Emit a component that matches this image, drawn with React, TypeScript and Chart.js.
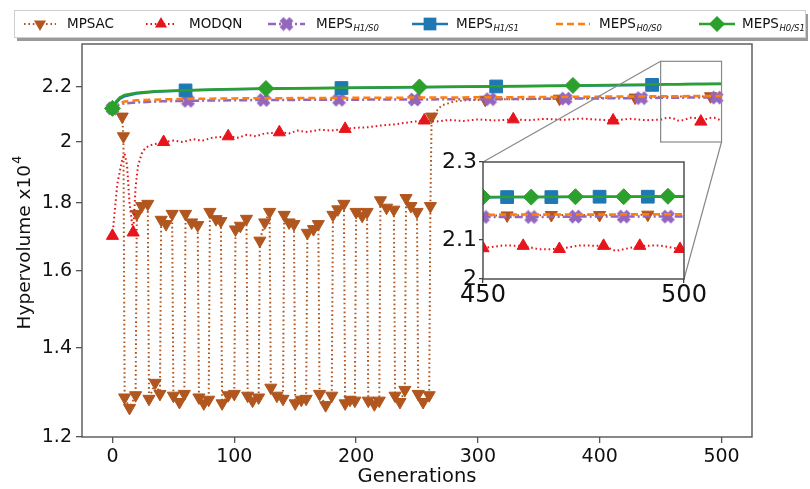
import React, { useEffect, useRef } from 'react';
import { Chart, registerables } from 'chart.js';
Chart.register(...registerables);

// ---------------- data ----------------
const mpsacGens = [0, 5, 8, 9,
  10, 14, 19, 20, 24, 29,
  30, 35, 39, 40, 44, 49,
  50, 55, 59, 60, 65, 70,
  71, 75, 79, 80, 85, 89,
  90, 95, 100, 101, 105, 110,
  111, 115, 120, 121, 125, 129,
  130, 135, 140, 141, 145, 149,
  150, 155, 159, 160, 165, 169,
  170, 175, 180, 181, 185, 190,
  191, 195, 199, 200, 205, 209,
  210, 215, 219, 220, 225, 231,
  232, 236, 240, 241, 245, 250,
  251, 255, 260, 261, 262, 270, 280, 290, 306, 330, 367, 400, 429, 450, 456, 467, 479, 491, 500];
const mpsacVals = [2.12, 2.10, 2.09, 2.02,
  1.285, 1.262, 1.29, 1.766, 1.79, 1.797,
  1.282, 1.318, 1.293, 1.748, 1.735, 1.766,
  1.289, 1.275, 1.293, 1.766, 1.74, 1.732,
  1.285, 1.272, 1.28, 1.772, 1.75, 1.744,
  1.272, 1.29, 1.293, 1.719, 1.73, 1.751,
  1.289, 1.278, 1.285, 1.686, 1.74, 1.772,
  1.307, 1.289, 1.282, 1.763, 1.74, 1.735,
  1.272, 1.28, 1.282, 1.709, 1.72, 1.735,
  1.293, 1.268, 1.289, 1.763, 1.78, 1.797,
  1.272, 1.28, 1.278, 1.772, 1.76, 1.772,
  1.278, 1.27, 1.278, 1.808, 1.785, 1.779,
  1.289, 1.275, 1.302, 1.815, 1.79, 1.772,
  1.293, 1.275, 1.29, 1.79, 2.09, 2.13, 2.145, 2.15, 2.152, 2.154, 2.156, 2.158, 2.16, 2.163, 2.163, 2.164, 2.164, 2.165, 2.165];
const mpsacMarks = [8, 9, 10, 14, 19, 20, 24, 29, 30, 35, 39, 40, 44, 49, 50, 55, 59, 60, 65, 70, 71, 75, 79, 80, 85, 89,
  90, 95, 100, 101, 105, 110, 111, 115, 120, 121, 125, 129, 130, 135, 140, 141, 145, 149, 150, 155, 159, 160, 165, 169,
  170, 175, 180, 181, 185, 190, 191, 195, 199, 200, 205, 209, 210, 215, 219, 220, 225, 231, 232, 236, 240, 241, 245, 250,
  251, 255, 260, 261, 262, 306, 367, 429, 491];
const mpsacInsetMarks = [456, 467, 479, 491];

const modqnGens = [0, 2, 4, 6, 8, 10, 12, 14, 17, 19, 21, 24, 27, 32, 37, 42, 50, 58, 66, 74, 82, 95, 103, 110, 118, 125, 137, 145, 152, 160,
  170, 180, 191, 200, 210, 220, 232, 244, 256, 266, 276, 288, 300, 315, 329, 342, 355, 370, 385, 398,
  411, 425, 438, 450, 455, 460, 464, 469, 474, 480, 483, 489, 494, 499, 500];
const modqnVals = [1.70, 1.78, 1.86, 1.90, 1.94, 1.96, 1.92, 1.80, 1.71, 1.85, 1.92, 1.96, 1.98, 1.99, 1.995, 2.0, 2.005, 2.0, 2.01, 2.005,
  2.015, 2.02, 2.015, 2.025, 2.02, 2.03, 2.034, 2.03, 2.04, 2.035, 2.043, 2.04, 2.046, 2.05, 2.052, 2.058, 2.062, 2.07, 2.076, 2.072,
  2.078, 2.074, 2.08, 2.076, 2.08, 2.077, 2.082, 2.078, 2.083, 2.079, 2.076, 2.082, 2.077, 2.079, 2.086, 2.085, 2.076, 2.077, 2.086, 2.085,
  2.072, 2.085, 2.086, 2.077, 2.077];
const modqnMarks = [0, 17, 42, 95, 137, 191, 256, 329, 411, 483];
const modqnInsetMarks = [450, 460, 469, 480, 489, 499];

const h1s0Gens = [0, 3, 6, 10, 20, 40, 62, 124, 186, 248, 310, 372, 434, 450, 462, 473, 485, 496, 500];
const h1s0Vals = [2.12, 2.13, 2.135, 2.138, 2.142, 2.146, 2.148, 2.151, 2.152, 2.153, 2.154, 2.156, 2.158, 2.159, 2.159, 2.16, 2.16, 2.16, 2.16];
const h1s0Marks = [0, 62, 124, 186, 248, 310, 372, 434, 496];
const h1s0InsetMarks = [450, 462, 473, 485, 496];

const h1s1Gens = [0, 3, 6, 10, 20, 35, 60, 90, 126, 188, 252, 315, 378, 443, 456, 467, 479, 491, 500];
const h1s1Vals = [2.12, 2.14, 2.155, 2.165, 2.175, 2.182, 2.187, 2.19, 2.193, 2.196, 2.199, 2.202, 2.205, 2.208, 2.21, 2.21, 2.211, 2.211, 2.211];
const h1s1Marks = [60, 188, 315, 443];
const h1s1InsetMarks = [456, 467, 479, 491];

const h0s0Gens = [0, 3, 6, 10, 20, 40, 60, 100, 150, 250, 350, 450, 500];
const h0s0Vals = [2.12, 2.132, 2.14, 2.145, 2.15, 2.153, 2.155, 2.157, 2.158, 2.16, 2.162, 2.165, 2.166];

const h0s1Gens = [0, 3, 6, 10, 20, 35, 60, 90, 126, 190, 252, 315, 378, 440, 450, 462, 473, 485, 496, 500];
const h0s1Vals = [2.12, 2.145, 2.16, 2.17, 2.178, 2.184, 2.188, 2.191, 2.194, 2.197, 2.2, 2.203, 2.206, 2.209, 2.21, 2.21, 2.211, 2.211, 2.212, 2.212];
const h0s1Marks = [0, 126, 252, 378];
const h0s1InsetMarks = [450, 462, 473, 485, 496];

const xTicks = [0, 100, 200, 300, 400, 500];
const yTicks = [1.2, 1.4, 1.6, 1.8, 2.0, 2.2];
const yTickLabels = ['1.2', '1.4', '1.6', '1.8', '2', '2.2'];
const insetXTicks = [450, 500];
const insetYTicks = [2.0, 2.1, 2.3];
const insetYTickLabels = ['2', '2.1', '2.3'];
const xTitle = 'Generations';
const yTitle = 'Hypervolume x10';
const yTitleSup = '4';

// ---------------- styling ----------------
const FONT = 'DejaVu Sans';
Chart.defaults.font.family = FONT;

function makeXImage(color: string) {
  const c = document.createElement('canvas');
  c.width = 15; c.height = 15;
  const g = c.getContext('2d')!;
  g.translate(7.5, 7.5);
  g.rotate(Math.PI / 4);
  g.fillStyle = color;
  g.fillRect(-7, -2.8, 14, 5.6);
  g.fillRect(-2.8, -7, 5.6, 14);
  return c;
}

type Series = {
  name: string; sub?: string; gens: number[]; vals: number[]; marks: number[]; insetMarks: number[];
  color: string; dash: number[]; width: number; marker: string | null; radius: number; order: number;
};

function buildSeries(): Series[] {
  return [
    { name: 'MPSAC', gens: mpsacGens, vals: mpsacVals, marks: mpsacMarks, insetMarks: mpsacInsetMarks,
      color: '#b0561e', dash: [1.6, 2.8], width: 2, marker: 'triDown', radius: 7, order: 6 },
    { name: 'MODQN', gens: modqnGens, vals: modqnVals, marks: modqnMarks, insetMarks: modqnInsetMarks,
      color: '#e8141c', dash: [1.6, 2.8], width: 2, marker: 'tri', radius: 7, order: 5 },
    { name: 'MEPS', sub: 'H1/S0', gens: h1s0Gens, vals: h1s0Vals, marks: h1s0Marks, insetMarks: h1s0InsetMarks,
      color: '#9467bd', dash: [8, 3, 2, 3], width: 2.5, marker: 'X', radius: 7, order: 4 },
    { name: 'MEPS', sub: 'H1/S1', gens: h1s1Gens, vals: h1s1Vals, marks: h1s1Marks, insetMarks: h1s1InsetMarks,
      color: '#1f77b4', dash: [], width: 2.5, marker: 'rect', radius: 9, order: 3 },
    { name: 'MEPS', sub: 'H0/S0', gens: h0s0Gens, vals: h0s0Vals, marks: [], insetMarks: [],
      color: '#ff7f0e', dash: [7, 4], width: 2.5, marker: null, radius: 0, order: 2 },
    { name: 'MEPS', sub: 'H0/S1', gens: h0s1Gens, vals: h0s1Vals, marks: h0s1Marks, insetMarks: h0s1InsetMarks,
      color: '#2ca02c', dash: [], width: 2.5, marker: 'rectRot', radius: 8, order: 1 },
  ];
}

function makeDatasets(series: Series[], inset: boolean) {
  return series.map((s) => {
    const marks = new Set(inset ? s.insetMarks : s.marks);
    const xImg = s.marker === 'X' ? makeXImage(s.color) : null;
    const style = s.marker === 'triDown' || s.marker === 'tri' ? 'triangle'
      : s.marker === 'X' ? xImg : s.marker === 'rect' ? 'rect' : s.marker === 'rectRot' ? 'rectRot' : 'circle';
    return {
      label: s.sub ? s.name + '_' + s.sub : s.name,
      data: s.gens.map((g, i) => ({ x: g, y: s.vals[i] })),
      borderColor: s.color,
      backgroundColor: s.color,
      borderWidth: s.width,
      borderDash: s.dash,
      borderCapStyle: 'butt',
      tension: 0,
      order: s.order,
      pointStyle: style,
      rotation: s.marker === 'triDown' ? 180 : 0,
      pointRotation: s.marker === 'triDown' ? 180 : 0,
      pointBackgroundColor: s.color,
      pointBorderColor: s.color,
      pointBorderWidth: 1,
      pointRadius: (ctx: any) => {
        const raw = ctx.raw;
        if (!raw || !s.marker) return 0;
        return marks.has(raw.x) ? s.radius : 0;
      },
      pointHoverRadius: 0,
    };
  });
}

// layout constants
const INSET_LEFT = 400, INSET_TOP = 140, INSET_W = 320, INSET_H = 180;
const INSET_AREA = { left: 83, top: 22, right: 284, bottom: 139 };

function drawLegendMarker(ctx: CanvasRenderingContext2D, kind: string | null, x: number, y: number, color: string, r: number) {
  if (!kind) return;
  ctx.save();
  ctx.fillStyle = color; ctx.strokeStyle = color; ctx.lineWidth = 1; ctx.setLineDash([]);
  ctx.beginPath();
  const s60 = Math.sin(Math.PI / 3);
  if (kind === 'triDown') {
    ctx.moveTo(x, y + r); ctx.lineTo(x - r * s60, y - r / 2); ctx.lineTo(x + r * s60, y - r / 2); ctx.closePath(); ctx.fill();
  } else if (kind === 'tri') {
    ctx.moveTo(x, y - r); ctx.lineTo(x - r * s60, y + r / 2); ctx.lineTo(x + r * s60, y + r / 2); ctx.closePath(); ctx.fill();
  } else if (kind === 'rect') {
    const h = r * Math.SQRT1_2; ctx.rect(x - h, y - h, 2 * h, 2 * h); ctx.fill();
  } else if (kind === 'rectRot') {
    ctx.moveTo(x, y - r); ctx.lineTo(x + r, y); ctx.lineTo(x, y + r); ctx.lineTo(x - r, y); ctx.closePath(); ctx.fill();
  } else if (kind === 'X') {
    ctx.drawImage(makeXImage(color), x - 7.5, y - 7.5);
  }
  ctx.restore();
}

const legendPos = [
  { hx0: 24, hx1: 56, tx: 67 },
  { hx0: 146, hx1: 176, tx: 189 },
  { hx0: 268, hx1: 305, tx: 316 },
  { hx0: 412, hx1: 448, tx: 456 },
  { hx0: 556, hx1: 590, tx: 599 },
  { hx0: 699, hx1: 735, tx: 742 },
];

function mainPlugin(series: Series[]) {
  return {
    id: 'mainDecor',
    beforeDraw(chart: any) {
      const ctx = chart.ctx as CanvasRenderingContext2D;
      ctx.save(); ctx.fillStyle = '#fff'; ctx.fillRect(0, 0, chart.width, chart.height); ctx.restore();
    },
    afterDraw(chart: any) {
      const ctx = chart.ctx as CanvasRenderingContext2D;
      const a = chart.chartArea;
      const xs = chart.scales.x, ys = chart.scales.y;
      ctx.save();
      // frame
      ctx.strokeStyle = '#555'; ctx.lineWidth = 1.4; ctx.setLineDash([]);
      ctx.strokeRect(a.left, a.top, a.right - a.left, a.bottom - a.top);
      // zoom rectangle + connectors
      const rx0 = xs.getPixelForValue(insetXTicks[0]), rx1 = xs.getPixelForValue(insetXTicks[1]);
      const ry0 = ys.getPixelForValue(insetYTicks[insetYTicks.length - 1]), ry1 = ys.getPixelForValue(insetYTicks[0]);
      ctx.strokeStyle = '#888'; ctx.lineWidth = 1.2;
      ctx.strokeRect(rx0, ry0, rx1 - rx0, ry1 - ry0);
      ctx.beginPath();
      ctx.moveTo(rx0, ry0); ctx.lineTo(INSET_LEFT + INSET_AREA.left, INSET_TOP + INSET_AREA.top);
      ctx.moveTo(rx1, ry1); ctx.lineTo(INSET_LEFT + INSET_AREA.right, INSET_TOP + INSET_AREA.bottom);
      ctx.stroke();
      // axis titles
      ctx.fillStyle = '#111';
      ctx.font = `19.5px "${FONT}"`;
      ctx.textAlign = 'center'; ctx.textBaseline = 'middle';
      ctx.fillText(xTitle, (a.left + a.right) / 2, 477);
      ctx.save();
      ctx.translate(25, (a.top + a.bottom) / 2 + 2);
      ctx.rotate(-Math.PI / 2);
      ctx.font = `18.5px "${FONT}"`;
      const w1 = ctx.measureText(yTitle).width;
      ctx.font = `13px "${FONT}"`;
      const w2 = ctx.measureText(yTitleSup).width;
      const start = -(w1 + w2 + 1) / 2;
      ctx.textAlign = 'left';
      ctx.font = `18.5px "${FONT}"`;
      ctx.fillText(yTitle, start, 0);
      ctx.font = `13px "${FONT}"`;
      ctx.fillText(yTitleSup, start + w1 + 1, -7);
      ctx.restore();
      // legend
      const lx0 = 14, ly0 = 10, lx1 = 805, ly1 = 37;
      ctx.fillStyle = '#9a9a9a';
      ctx.fillRect(lx0 + 3, ly0 + 4, lx1 - lx0, ly1 - ly0);
      ctx.fillStyle = '#fff';
      ctx.fillRect(lx0, ly0, lx1 - lx0, ly1 - ly0);
      ctx.strokeStyle = '#cfcfcf'; ctx.lineWidth = 1;
      ctx.strokeRect(lx0 + 0.5, ly0 + 0.5, lx1 - lx0, ly1 - ly0);
      const cy = 24;
      series.forEach((s, i) => {
        const p = legendPos[i];
        ctx.save();
        ctx.strokeStyle = s.color; ctx.lineWidth = s.width; ctx.setLineDash(s.dash); ctx.lineCap = 'butt';
        ctx.beginPath(); ctx.moveTo(p.hx0, cy); ctx.lineTo(p.hx1, cy); ctx.stroke();
        ctx.restore();
        drawLegendMarker(ctx, s.marker, (p.hx0 + p.hx1) / 2, cy, s.color, s.radius);
        ctx.fillStyle = '#111';
        ctx.textAlign = 'left'; ctx.textBaseline = 'middle';
        ctx.font = `13.5px "${FONT}"`;
        ctx.fillText(s.name, p.tx, cy);
        if (s.sub) {
          const w = ctx.measureText(s.name).width;
          ctx.font = `italic 8.5px "${FONT}"`;
          ctx.fillText(s.sub, p.tx + w + 0.5, cy + 4.5);
        }
      });
      ctx.restore();
    },
  };
}

const insetPlugin = {
  id: 'insetDecor',
  beforeDraw(chart: any) {
    const ctx = chart.ctx as CanvasRenderingContext2D;
    const a = chart.chartArea;
    ctx.save(); ctx.fillStyle = '#fff'; ctx.fillRect(a.left, a.top, a.right - a.left, a.bottom - a.top); ctx.restore();
  },
  afterDraw(chart: any) {
    const ctx = chart.ctx as CanvasRenderingContext2D;
    const a = chart.chartArea;
    ctx.save();
    ctx.strokeStyle = '#444'; ctx.lineWidth = 1.4; ctx.setLineDash([]);
    ctx.strokeRect(a.left, a.top, a.right - a.left, a.bottom - a.top);
    ctx.restore();
  },
};

export default function App() {
  const mainRef = useRef<HTMLCanvasElement>(null);
  const insetRef = useRef<HTMLCanvasElement>(null);
  useEffect(() => {
    document.body.style.margin = '0';
    const series = buildSeries();
    const main = new Chart(mainRef.current as HTMLCanvasElement, {
      type: 'line',
      data: { datasets: makeDatasets(series, false) as any },
      options: {
        animation: false,
        responsive: false,
        events: [],
        layout: { padding: { left: 0, right: 58, top: 44, bottom: 0 } },
        plugins: { legend: { display: false }, tooltip: { enabled: false } },
        scales: {
          x: {
            type: 'linear', min: -25, max: 525,
            afterBuildTicks: (s: any) => { s.ticks = xTicks.map((v) => ({ value: v })); },
            afterFit: (s: any) => { s.height = 52; },
            grid: { drawOnChartArea: false, drawTicks: true, tickLength: 6, color: '#555', lineWidth: 1.3 },
            border: { display: false },
            ticks: { font: { size: 19 }, color: '#111', padding: 3, maxRotation: 0, callback: (v: any) => String(v) },
          },
          y: {
            type: 'logarithmic', min: 1.2, max: 2.37,
            afterBuildTicks: (s: any) => { s.ticks = yTicks.map((v) => ({ value: v })); },
            afterFit: (s: any) => { s.width = 82; },
            grid: { drawOnChartArea: false, drawTicks: true, tickLength: 6, color: '#555', lineWidth: 1.3 },
            border: { display: false },
            ticks: { font: { size: 19 }, color: '#111', padding: 4, callback: (_v: any, i: number) => yTickLabels[i] },
          },
        },
      } as any,
      plugins: [mainPlugin(series)],
    });
    const inset = new Chart(insetRef.current as HTMLCanvasElement, {
      type: 'line',
      data: { datasets: makeDatasets(series, true) as any },
      options: {
        animation: false,
        responsive: false,
        events: [],
        layout: { padding: { left: 0, right: INSET_W - INSET_AREA.right, top: INSET_AREA.top, bottom: 0 } },
        plugins: { legend: { display: false }, tooltip: { enabled: false } },
        scales: {
          x: {
            type: 'linear', min: insetXTicks[0], max: insetXTicks[1],
            afterBuildTicks: (s: any) => { s.ticks = insetXTicks.map((v) => ({ value: v })); },
            afterFit: (s: any) => { s.height = INSET_H - INSET_AREA.bottom; },
            grid: { drawOnChartArea: false, drawTicks: true, tickLength: 4, color: '#444', lineWidth: 1.3 },
            border: { display: false },
            ticks: { font: { size: 24 }, color: '#111', padding: -2, maxRotation: 0, autoSkip: false, callback: (v: any) => String(v) },
          },
          y: {
            type: 'linear', min: insetYTicks[0], max: insetYTicks[insetYTicks.length - 1],
            afterBuildTicks: (s: any) => { s.ticks = insetYTicks.map((v) => ({ value: v })); },
            afterFit: (s: any) => { s.width = INSET_AREA.left; },
            grid: { drawOnChartArea: false, drawTicks: true, tickLength: 4, color: '#444', lineWidth: 1.3 },
            border: { display: false },
            ticks: { font: { size: 22 }, color: '#111', padding: 2, autoSkip: false, callback: (_v: any, i: number) => insetYTickLabels[i] },
          },
        },
      } as any,
      plugins: [insetPlugin],
    });
    return () => { main.destroy(); inset.destroy(); };
  }, []);
  return (
    <div style={{ position: 'relative', width: 810, height: 489, overflow: 'hidden' }}>
      <canvas ref={mainRef} width={810} height={489} style={{ position: 'absolute', left: 0, top: 0 }} />
      <canvas ref={insetRef} width={INSET_W} height={INSET_H}
        style={{ position: 'absolute', left: INSET_LEFT, top: INSET_TOP }} />
    </div>
  );
}
